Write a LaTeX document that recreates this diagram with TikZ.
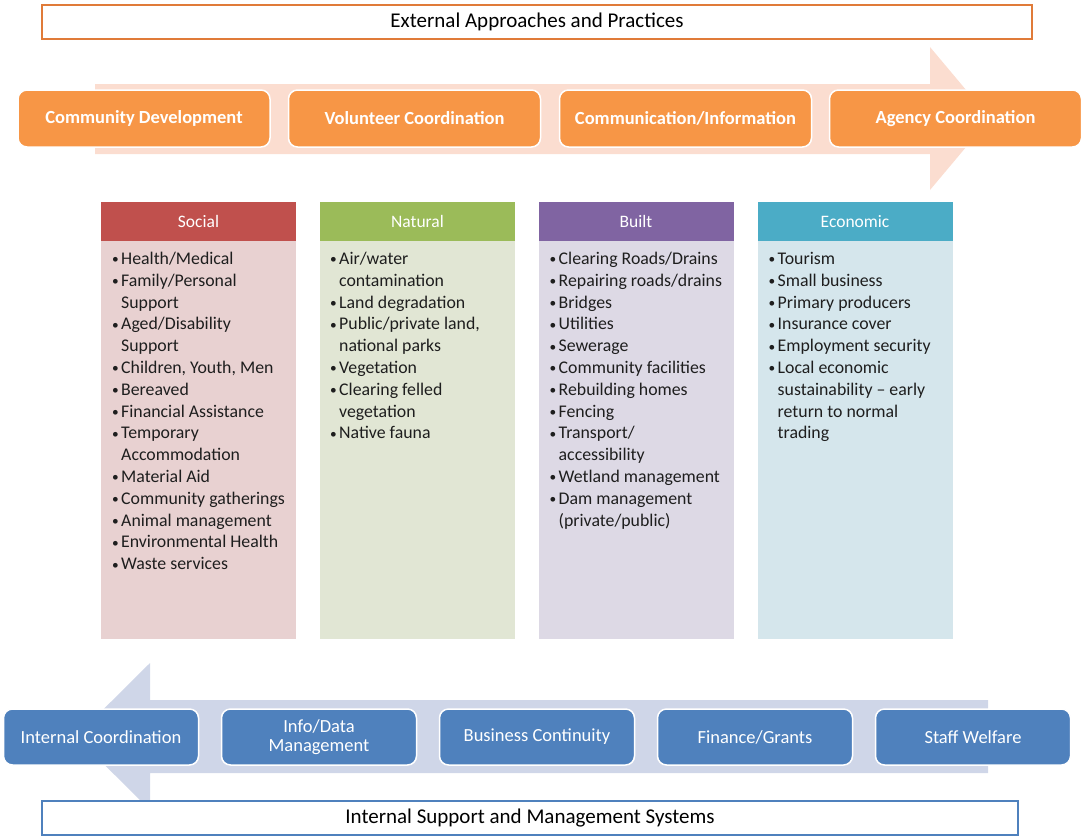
\documentclass[tikz,border=0pt]{standalone}
\usepackage{fontspec}
\setmainfont{Carlito}
\usetikzlibrary{positioning}
\definecolor{topborder}{HTML}{E07B39}
\definecolor{orangebox}{HTML}{F79646}
\definecolor{arrowpink}{HTML}{FBDDD0}
\definecolor{socialh}{HTML}{C0504D}
\definecolor{naturalh}{HTML}{9BBB59}
\definecolor{builth}{HTML}{8064A2}
\definecolor{economich}{HTML}{4BACC6}
\definecolor{socialb}{HTML}{E8D1D1}
\definecolor{naturalb}{HTML}{E1E6D4}
\definecolor{builtb}{HTML}{DDD9E5}
\definecolor{economicb}{HTML}{D5E6EC}
\definecolor{bluebox}{HTML}{4F81BD}
\definecolor{arrowblue}{HTML}{CFD6E8}
\definecolor{bodytext}{HTML}{1E1E1E}
\newcommand{\bul}{\makebox[9pt][l]{\raisebox{0.5pt}{\scalebox{0.75}{\textbullet}}}}
\newcommand{\cont}{\hspace*{9pt}}
\tikzset{
  titlebox/.style={draw=#1, line width=1.6pt, fill=white, inner sep=0pt,
    font=\fontsize{21}{24}\selectfont, text=black},
  orangestep/.style={fill=orangebox, draw=white, line width=1.5pt, rounded corners=9pt,
    minimum width=252pt, minimum height=57pt, inner sep=0pt, text=white,
    font=\fontsize{18.5}{21}\selectfont\bfseries},
  bluestep/.style={fill=bluebox, draw=white, line width=1.5pt, rounded corners=9pt,
    minimum width=195pt, minimum height=56pt, inner sep=0pt, text=white, align=center,
    font=\fontsize{18.5}{19}\selectfont},
  colhead/.style={fill=#1, minimum width=195pt, minimum height=39pt, inner sep=0pt,
    text=white, font=\fontsize{17.5}{19}\selectfont},
  colbody/.style={fill=#1, minimum width=195pt, minimum height=398pt, inner sep=0pt},
  coltext/.style={anchor=north west, inner sep=0pt, align=left, text=bodytext,
    font=\fontsize{17.8}{21.8}\selectfont},
}
\begin{document}
\begin{tikzpicture}[x=1pt,y=-1pt]
\useasboundingbox (0,0) rectangle (1081,836);
% top title
\node[titlebox=topborder, minimum width=990pt, minimum height=34pt] (ext) at (537,22) {External Approaches and Practices};
% top arrow
\fill[arrowpink] (95,84) -- (930,84) -- (930,47) -- (990,118.5) -- (930,190) -- (930,154) -- (95,154) -- cycle;
\node[orangestep] (o1) at (144,118.5) {Community Development};
\node[orangestep] (o2) at (414.5,118.5) {Volunteer Coordination};
\node[orangestep] (o3) at (685.5,118.5) {Communication/Information};
\node[orangestep] (o4) at (955.5,118.5) {Agency Coordination};
% columns
\node[colbody=socialb] (sb) at (198.5,440) {};
\node[colbody=naturalb] (nb) at (417.5,440) {};
\node[colbody=builtb] (bb) at (636,440) {};
\node[colbody=economicb] (eb) at (855,440) {};
\node[colhead=socialh] (sh) at (198.5,221.5) {Social};
\node[colhead=naturalh] (nh) at (417.5,221.5) {Natural};
\node[colhead=builth] (bh) at (636,221.5) {Built};
\node[colhead=economich] (eh) at (855,221.5) {Economic};
\node[coltext] (st) at (112,249) {\strut\bul Health/Medical\\ \bul Family/Personal\\ \cont Support\\ \bul Aged/Disability\\ \cont Support\\ \bul Children, Youth, Men\\ \bul Bereaved\\ \bul Financial Assistance\\ \bul Temporary\\ \cont Accommodation\\ \bul Material Aid\\ \bul Community gatherings\\ \bul Animal management\\ \bul Environmental Health\\ \bul Waste services};
\node[coltext] (nt) at (330,249) {\strut\bul Air/water\\ \cont contamination\\ \bul Land degradation\\ \bul Public/private land,\\ \cont national parks\\ \bul Vegetation\\ \bul Clearing felled\\ \cont vegetation\\ \bul Native fauna};
\node[coltext] (bt) at (549.5,249) {\strut\bul Clearing Roads/Drains\\ \bul Repairing roads/drains\\ \bul Bridges\\ \bul Utilities\\ \bul Sewerage\\ \bul Community facilities\\ \bul Rebuilding homes\\ \bul Fencing\\ \bul Transport/\\ \cont accessibility\\ \bul Wetland management\\ \bul Dam management\\ \cont (private/public)};
\node[coltext] (et) at (768.5,249) {\strut\bul Tourism\\ \bul Small business\\ \bul Primary producers\\ \bul Insurance cover\\ \bul Employment security\\ \bul Local economic\\ \cont sustainability -- early\\ \cont return to normal\\ \cont trading};
% bottom arrow
\fill[arrowblue] (988,700) -- (150,700) -- (150,663) -- (76,736.5) -- (150,810) -- (150,773) -- (988,773) -- cycle;
\node[bluestep] (b1) at (101,737) {Internal Coordination};
\node[bluestep] (b2) at (319,737) {Info/Data\\Management};
\node[bluestep] (b3) at (537,737) {Business Continuity};
\node[bluestep] (b4) at (755,737) {Finance/Grants};
\node[bluestep] (b5) at (973,737) {Staff Welfare};
% bottom title
\node[titlebox=bluebox, line width=1.2pt, minimum width=976pt, minimum height=34pt] (int) at (530,818) {Internal Support and Management Systems};
\end{tikzpicture}
\end{document}
